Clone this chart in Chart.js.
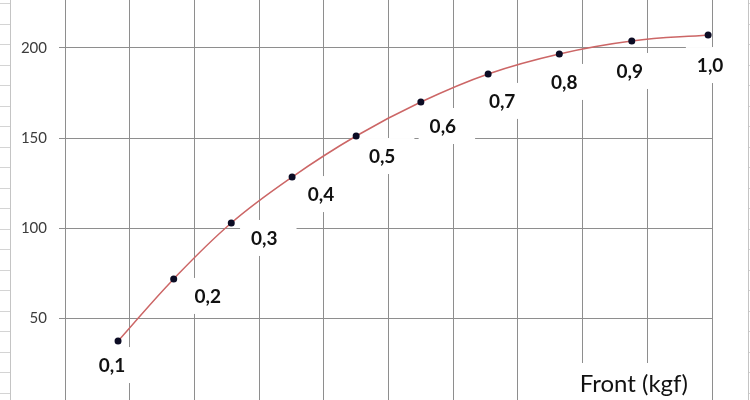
<!DOCTYPE html>
<html lang="pt">
<head>
  <meta charset="UTF-8" />
  <title>Front (kgf)</title>
  <script src="https://cdn.jsdelivr.net/npm/chart.js"></script>
  <style>
    html, body { margin: 0; padding: 0; }
    body { width: 750px; height: 400px; overflow: hidden; position: relative; background: #fff; }
    .sheet { position: absolute; top: 0; height: 400px;
      background: repeating-linear-gradient(to bottom, #d4d4d4 0 1px, transparent 1px 20.5px); }
    #sheetL { left: 0; width: 10px; border-right: 1px solid #c4c4c4; background-position: 0 3px; }
    #sheetR { left: 748px; width: 2px; border-left: 1px solid #c4c4c4; background-position: 0 3px; }
    #chart { position: absolute; left: 0; top: -63px; }
  </style>
</head>
<body>
  <div id="sheetL" class="sheet"></div>
  <div id="sheetR" class="sheet"></div>
  <canvas id="chart" width="750" height="493"></canvas>

  <script>
    // dados
    const pointLabels = ['0,1', '0,2', '0,3', '0,4', '0,5', '0,6', '0,7', '0,8', '0,9', '1,0'];
    const xValues = [0.82, 1.68, 2.57, 3.51, 4.50, 5.50, 6.54, 7.64, 8.76, 9.94];
    const yValues = [37.2, 71.7, 102.8, 128.3, 151.1, 170.0, 185.6, 196.7, 203.9, 207.2];
    const yTicks = [50, 100, 150, 200];
    const axisTitle = 'Front (kgf)';

    // deslocamento dos rótulos em relação ao ponto (px)
    const labelOffsets = [[-6, 25], [34, 18], [33, 16], [29, 18], [26, 21], [22, 25], [14, 28], [5, 29], [-2, 31], [2, 31]];

    const gridColor = '#8e8e8e';
    const labelFont = 'bold 19px Lato';
    const titleFont = '24px Lato';

    const labelsPlugin = {
      id: 'pointLabels',
      beforeDatasetsDraw(chart) {
        const ctx = chart.ctx;
        const pts = chart.getDatasetMeta(0).data;
        ctx.save();
        ctx.fillStyle = '#fff';
        ctx.font = labelFont;
        pts.forEach((p, i) => {
          const w = ctx.measureText(pointLabels[i]).width + 30;
          const cx = p.x + labelOffsets[i][0] + 4;
          const cy = p.y + labelOffsets[i][1] - 1;
          ctx.fillRect(cx - w / 2, cy - 18, w, 36);
        });
        ctx.font = titleFont;
        const tw = ctx.measureText(axisTitle).width;
        const a = chart.chartArea;
        ctx.fillRect(a.right - 24 - tw - 6, a.bottom - 45, tw + 18, 45);
        ctx.restore();
      },
      afterDatasetsDraw(chart) {
        const ctx = chart.ctx;
        const pts = chart.getDatasetMeta(0).data;
        const a = chart.chartArea;
        ctx.save();
        ctx.fillStyle = '#111';
        ctx.font = labelFont;
        ctx.textAlign = 'center';
        ctx.textBaseline = 'middle';
        pts.forEach((p, i) => {
          ctx.fillText(pointLabels[i], p.x + labelOffsets[i][0], p.y + labelOffsets[i][1]);
        });
        ctx.font = titleFont;
        ctx.textAlign = 'right';
        ctx.textBaseline = 'alphabetic';
        ctx.fillText(axisTitle, a.right - 24, a.bottom - 16);
        ctx.restore();
      }
    };

    new Chart(document.getElementById('chart'), {
      type: 'scatter',
      data: {
        datasets: [{
          data: xValues.map((x, i) => ({ x, y: yValues[i] })),
          showLine: true,
          borderColor: '#cc6666',
          borderWidth: 1.5,
          tension: 0.4,
          pointRadius: 3.5,
          pointBackgroundColor: '#0c0c24',
          pointBorderColor: '#0c0c24',
          pointBorderWidth: 0
        }]
      },
      options: {
        responsive: false,
        devicePixelRatio: 1,
        animation: false,
        layout: { padding: { left: 0, right: 38, top: 8, bottom: 22 } },
        plugins: { legend: { display: false }, tooltip: { enabled: false } },
        scales: {
          x: {
            type: 'linear',
            min: 0,
            max: 10,
            ticks: { display: false, stepSize: 1 },
            grid: { color: gridColor, drawTicks: false },
            border: { display: false },
            afterFit: s => { s.height = 0; }
          },
          y: {
            min: 0,
            max: 250,
            ticks: {
              stepSize: 50,
              padding: 12,
              color: '#3c3c3c',
              font: { family: 'Lato', size: 15 },
              callback: v => yTicks.includes(v) ? String(v) : ''
            },
            grid: { color: gridColor, tickLength: 6 },
            border: { color: gridColor },
            afterFit: s => { s.width = 65; }
          }
        }
      },
      plugins: [labelsPlugin]
    });
  </script>
</body>
</html>
